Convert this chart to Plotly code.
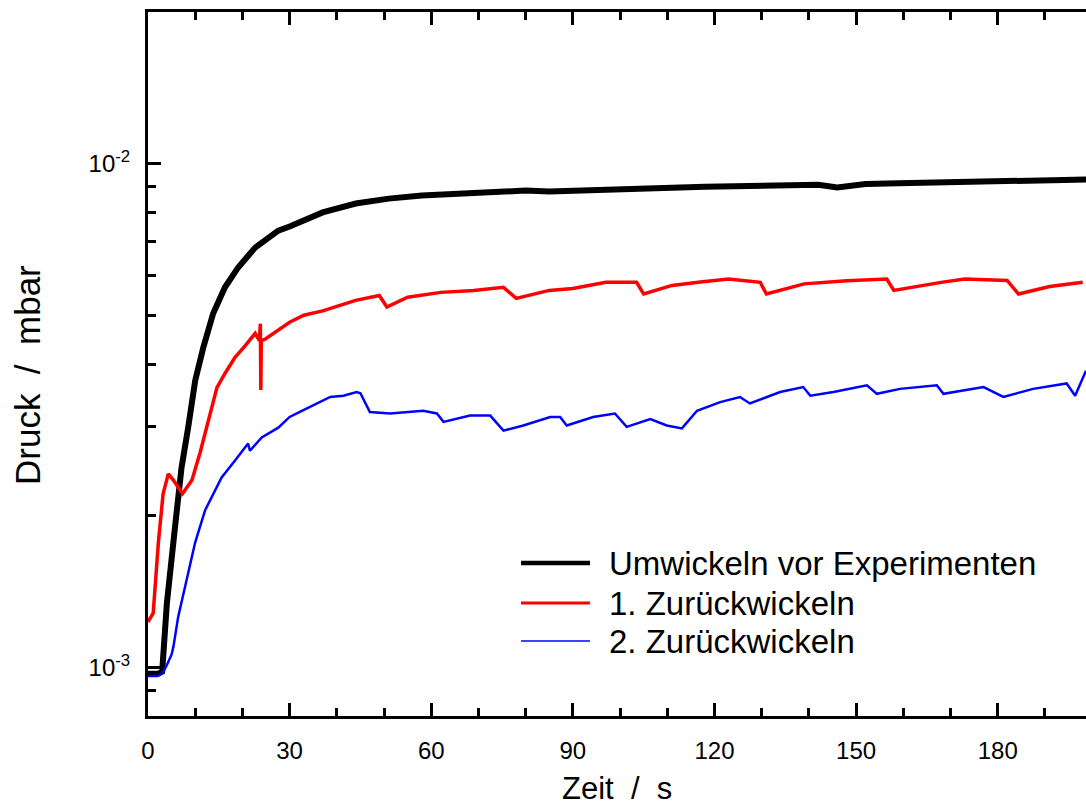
import math
import plotly.graph_objects as go

# ---- data (time in s, pressure in mbar) ----
t_black = [0, 1, 2, 3, 4, 5.7, 7.1, 8.5, 10, 11.7, 13.8, 16.3, 19.1, 22.7, 27.6, 30, 33, 37, 44, 51,
           58, 65, 72, 80, 85, 90, 97, 104, 111, 118, 125, 132, 139, 142, 146, 149, 152, 159, 166,
           173, 180, 187, 194, 199]
p_black = [0.00097, 0.00097, 0.00097, 0.00098, 0.00134, 0.00189, 0.00249, 0.00299, 0.00371, 0.00431,
           0.00504, 0.00568, 0.00622, 0.00681, 0.00736, 0.00750, 0.00770, 0.00800, 0.00833, 0.00852,
           0.00864, 0.00872, 0.00877, 0.00884, 0.00880, 0.00882, 0.00887, 0.00891, 0.00895, 0.00900,
           0.00904, 0.00908, 0.00912, 0.00908, 0.00897, 0.00902, 0.00911, 0.00914, 0.00918, 0.00921,
           0.00925, 0.00927, 0.00928, 0.00930]

t_red = [0, 1.1, 2.2, 3.2, 4.3, 5.4, 7.3, 9.3, 11, 13.1, 14.6, 16.3, 18.4, 20.6, 22.7, 23.6, 23.8,
         23.9, 24.0, 24.8, 27.5, 30, 33, 37, 44, 49, 50.6, 55, 62, 69, 75.3, 78, 85, 90, 97, 103.5,
         105, 111, 117, 123, 129.7, 131, 139, 148, 156.5, 158, 168, 173, 182, 184.4, 191, 198]
p_red = [0.00123, 0.00128, 0.00177, 0.00221, 0.00242, 0.00235, 0.00221, 0.00235, 0.00266, 0.00319,
         0.00359, 0.00383, 0.00412, 0.00435, 0.00460, 0.00445, 0.00481, 0.00355, 0.00445, 0.00448,
         0.00466, 0.00484, 0.00500, 0.00510, 0.00535, 0.00547, 0.00519, 0.00543, 0.00555, 0.00560,
         0.00568, 0.00540, 0.00560, 0.00565, 0.00581, 0.00581, 0.00551, 0.00573, 0.00582, 0.00590,
         0.00581, 0.00551, 0.00577, 0.00585, 0.00590, 0.00560, 0.00581, 0.00590, 0.00586, 0.00551,
         0.00570, 0.00581]

t_blue = [0, 1, 2, 3, 4, 5, 5.4, 6.4, 8.2, 10, 12.1, 15.6, 18.4, 21.2, 21.6, 24.1, 27.6, 30, 32.6,
          34.3, 38.6, 41.4, 44.2, 45, 47, 51.3, 58.3, 61.2, 62.6, 68.2, 72.5, 75.3, 79.5, 85.2, 87.3,
          88.7, 94.3, 98.9, 101.4, 106.4, 109.9, 113.1, 116.3, 121.2, 125.4, 127.5, 133.9, 138.8,
          140.3, 145.2, 152.3, 154.4, 159.3, 167.1, 168.5, 177, 181.2, 187.5, 194.6, 196.4, 198.7]
p_blue = [0.00096, 0.00096, 0.00096, 0.00097, 0.00101, 0.00106, 0.00110, 0.00126, 0.00149, 0.00177,
          0.00205, 0.00238, 0.00257, 0.00278, 0.00269, 0.00286, 0.00299, 0.00314, 0.00323, 0.00329,
          0.00344, 0.00346, 0.00352, 0.00350, 0.00321, 0.00319, 0.00323, 0.00319, 0.00307, 0.00316,
          0.00316, 0.00295, 0.00302, 0.00314, 0.00314, 0.00302, 0.00314, 0.00319, 0.00300, 0.00311,
          0.00302, 0.00298, 0.00323, 0.00336, 0.00344, 0.00334, 0.00352, 0.00360, 0.00346, 0.00352,
          0.00363, 0.00349, 0.00357, 0.00363, 0.00349, 0.00360, 0.00344, 0.00357, 0.00366, 0.00346,
          0.00388]

series_names = ["Umwickeln vor Experimenten", "1. Zurückwickeln", "2. Zurückwickeln"]
x_title = "Zeit\u00a0\u00a0/\u00a0\u00a0s"
y_title = "Druck\u00a0\u00a0/\u00a0\u00a0mbar"
x_ticks = [0, 30, 60, 90, 120, 150, 180]
y_ticks = [1e-3, 1e-2]
y_tick_text = ["10<sup>-3</sup>", "10<sup>-2</sup>"]
y_minor = [0.0009, 0.002, 0.003, 0.004, 0.005, 0.006, 0.007, 0.008, 0.009]

FONT = "Liberation Sans, Arial, sans-serif"
y_range = [math.log10(0.0008), math.log10(0.02)]
x_range = [0, 198.7]

fig = go.Figure()
fig.add_trace(go.Scatter(x=t_black, y=p_black, mode="lines", name=series_names[0],
                         line=dict(color="black", width=6)))
fig.add_trace(go.Scatter(x=t_red, y=p_red, mode="lines", name=series_names[1],
                         line=dict(color="#ff0000", width=3.5)))
fig.add_trace(go.Scatter(x=t_blue, y=p_blue, mode="lines", name=series_names[2],
                         line=dict(color="#0000ff", width=2.5)))

axis_common = dict(showgrid=False, zeroline=False, showline=True, linecolor="black", linewidth=3,
                   ticks="inside", tickcolor="black", tickwidth=3, automargin=False,
                   tickfont=dict(family=FONT, size=24, color="black"))

fig.update_layout(
    width=1086, height=807,
    margin=dict(l=148, r=0, t=12, b=91),
    paper_bgcolor="white", plot_bgcolor="white",
    showlegend=False,
    font=dict(family=FONT, color="black"),
    xaxis=dict(**axis_common, range=x_range, tickvals=x_ticks, ticklen=13, mirror="ticks",
               ticklabelstandoff=11,
               minor=dict(ticks="inside", dtick=10, tick0=0, ticklen=8, tickwidth=3, tickcolor="black")),
    yaxis=dict(**axis_common, type="log", range=y_range, tickvals=y_ticks, ticktext=y_tick_text,
               ticklen=13, mirror=False, ticklabelstandoff=10,
               minor=dict(ticks="inside", tickvals=y_minor, ticklen=8, tickwidth=3, tickcolor="black")),
    yaxis2=dict(type="log", range=y_range, overlaying="y", side="right", anchor="x",
                showgrid=False, zeroline=False, showline=False, showticklabels=False, automargin=False,
                ticks="inside", tickvals=y_ticks, ticklen=8, tickwidth=3, tickcolor="black",
                minor=dict(ticks="inside", tickvals=y_minor, ticklen=3, tickwidth=3, tickcolor="black")),
)

# axis titles
fig.add_annotation(xref="paper", yref="paper", x=0.5, y=0, yshift=-72, text=x_title, showarrow=False,
                   xanchor="center", yanchor="middle", borderpad=0,
                   font=dict(family=FONT, size=31, color="black"))
fig.add_annotation(xref="paper", yref="paper", x=0, xshift=-120, y=0.4844, text=y_title, showarrow=False,
                   textangle=-90, xanchor="center", yanchor="middle",
                   font=dict(family=FONT, size=35, color="black"))

# custom legend (long line samples as in the reference)
legend_colors = ["black", "#ff0000", "#0000ff"]
legend_widths = [4.5, 3, 1.5]
legend_y = [0.2173, 0.1605, 0.1065]
for name, col, w, yy in zip(series_names, legend_colors, legend_widths, legend_y):
    fig.add_shape(type="line", xref="paper", yref="paper", x0=0.3977, x1=0.4712, y0=yy, y1=yy,
                  line=dict(color=col, width=w))
    fig.add_annotation(xref="paper", yref="paper", x=0.4893, y=yy, text=name, showarrow=False,
                       xanchor="left", yanchor="middle", font=dict(family=FONT, size=33, color="black"))

fig.write_html("out.html")
